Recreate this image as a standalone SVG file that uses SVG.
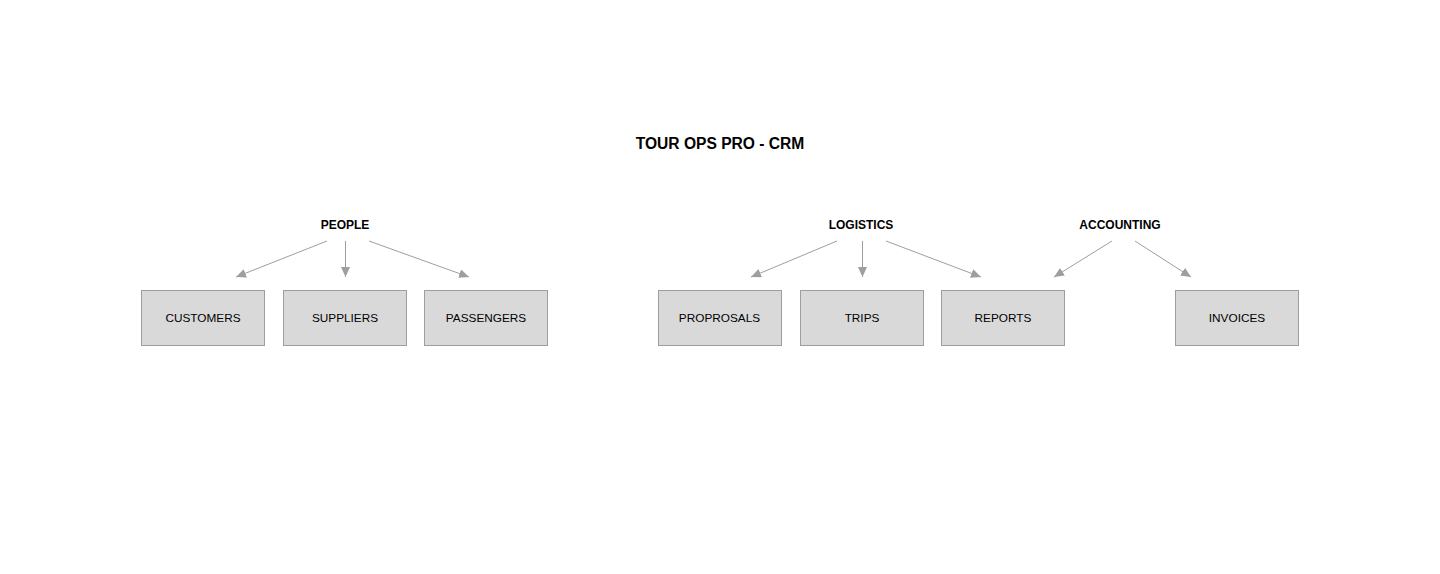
<svg xmlns="http://www.w3.org/2000/svg" width="1440" height="574" viewBox="0 0 1440 574">
<style>
.box{fill:#d9d9d9;stroke:#9e9e9e;stroke-width:1}
.lbl{font-family:"Liberation Sans",Arial,sans-serif;font-size:11.8px;fill:#000;text-anchor:middle;dominant-baseline:central}
.hdr{font-family:"Liberation Sans",Arial,sans-serif;font-size:12px;font-weight:bold;fill:#000;text-anchor:middle;dominant-baseline:central}
.title{font-family:"Liberation Sans",Arial,sans-serif;font-size:15.6px;font-weight:bold;fill:#000;text-anchor:middle;dominant-baseline:central}
.conn{stroke:#9e9e9e;stroke-width:1;fill:none;marker-end:url(#ah)}
</style>
<defs>
<marker id="ah" markerUnits="userSpaceOnUse" markerWidth="12" markerHeight="10" refX="10" refY="4.5" orient="auto">
<path d="M0,0 L10,4.5 L0,9 Z" fill="#9e9e9e"/>
</marker>
</defs>
<rect width="1440" height="574" fill="#fff"/>
<text id="title" class="title" x="720" y="143.5">TOUR OPS PRO - CRM</text>
<g id="people"><text class="hdr" x="345" y="224.5">PEOPLE</text></g>
<g id="logistics"><text class="hdr" x="861" y="224.5">LOGISTICS</text></g>
<g id="accounting"><text class="hdr" x="1120" y="224.5">ACCOUNTING</text></g>
<g id="customers"><rect class="box" x="141.5" y="290.5" width="123" height="55"/><text class="lbl" x="203" y="318">CUSTOMERS</text></g>
<g id="suppliers"><rect class="box" x="283.5" y="290.5" width="123" height="55"/><text class="lbl" x="345" y="318">SUPPLIERS</text></g>
<g id="passengers"><rect class="box" x="424.5" y="290.5" width="123" height="55"/><text class="lbl" x="486" y="318">PASSENGERS</text></g>
<g id="proprosals"><rect class="box" x="658.5" y="290.5" width="123" height="55"/><text class="lbl" x="719.5" y="318">PROPROSALS</text></g>
<g id="trips"><rect class="box" x="800.5" y="290.5" width="123" height="55"/><text class="lbl" x="862" y="318">TRIPS</text></g>
<g id="reports"><rect class="box" x="941.5" y="290.5" width="123" height="55"/><text class="lbl" x="1003" y="318">REPORTS</text></g>
<g id="invoices"><rect class="box" x="1175.5" y="290.5" width="123" height="55"/><text class="lbl" x="1237" y="318">INVOICES</text></g>
<g id="connectors">
<line class="conn" x1="327" y1="241" x2="236" y2="277"/>
<line class="conn" x1="345.5" y1="241" x2="345.5" y2="277"/>
<line class="conn" x1="369" y1="241" x2="469" y2="277"/>
<line class="conn" x1="837" y1="241" x2="751" y2="277"/>
<line class="conn" x1="862.5" y1="241" x2="862.5" y2="277"/>
<line class="conn" x1="886" y1="241" x2="981" y2="277"/>
<line class="conn" x1="1112" y1="241" x2="1054" y2="277"/>
<line class="conn" x1="1135" y1="241" x2="1191" y2="277"/>
</g>
</svg>
